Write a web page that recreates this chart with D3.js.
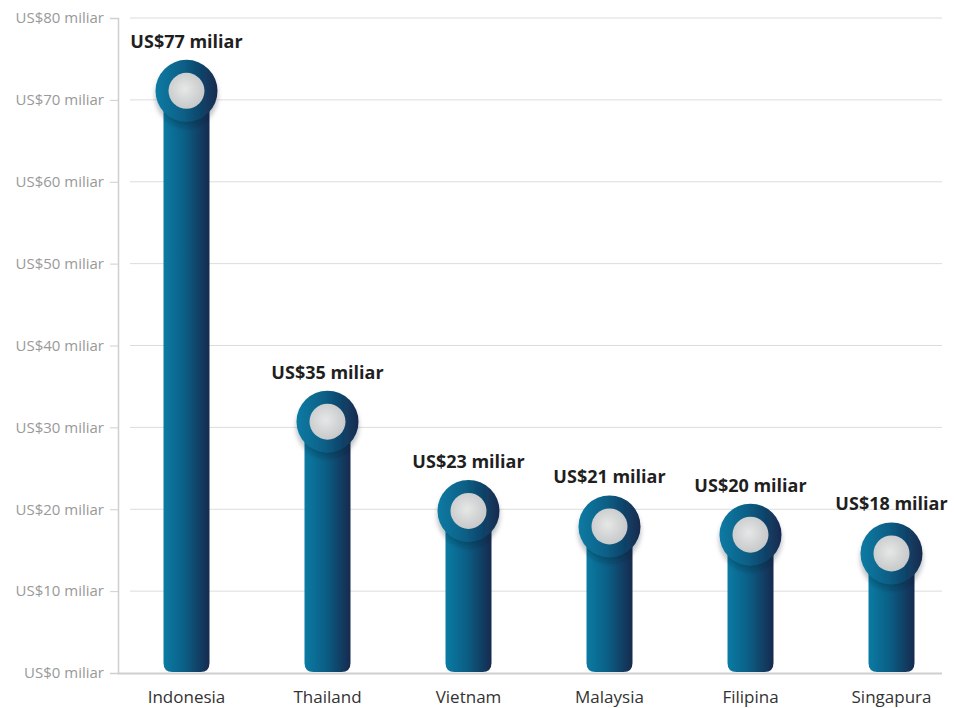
<!DOCTYPE html>
<html>
<head>
<meta charset="utf-8">
<script src="https://cdn.jsdelivr.net/npm/d3@7"></script>
<style>
  body { margin: 0; background: #fff; }
  svg { display: block; font-family: "Open Sans", "Noto Sans", sans-serif; }
</style>
</head>
<body>
<div id="chart"></div>
<script>
// categories and values
const countries = ["Indonesia", "Thailand", "Vietnam", "Malaysia", "Filipina", "Singapura"];
// value labels printed above each bar
const valueLabels = ["US$77 miliar", "US$35 miliar", "US$23 miliar", "US$21 miliar", "US$20 miliar", "US$18 miliar"];
// height of each bar as drawn (center of the round cap), in US$ miliar
const barValues = [71.1, 30.7, 19.8, 17.9, 16.9, 14.6];
const yTicks = [0, 10, 20, 30, 40, 50, 60, 70, 80];

const width = 954, height = 708;

const svg = d3.select("#chart")
  .append("svg")
  .attr("width", width)
  .attr("height", height);

const defs = svg.append("defs");

//Horizontal gradient for bars and caps
const grad = defs.append("linearGradient")
  .attr("id", "barGrad")
  .attr("x1", "0%").attr("x2", "100%")
  .attr("y1", "0%").attr("y2", "0%");
grad.append("stop").attr("offset", "0%").attr("stop-color", "#0a7ba3");
grad.append("stop").attr("offset", "45%").attr("stop-color", "#0b5f86");
grad.append("stop").attr("offset", "100%").attr("stop-color", "#162a4e");

//Light grey inner disc
const disc = defs.append("radialGradient")
  .attr("id", "discGrad")
  .attr("cx", "45%").attr("cy", "45%").attr("r", "60%");
disc.append("stop").attr("offset", "0%").attr("stop-color", "#e6e7e7");
disc.append("stop").attr("offset", "100%").attr("stop-color", "#c4c6c7");

const shadow = defs.append("filter")
  .attr("id", "capShadow")
  .attr("x", "-30%").attr("y", "-30%")
  .attr("width", "160%").attr("height", "170%");
shadow.append("feDropShadow")
  .attr("dx", 0).attr("dy", 5)
  .attr("stdDeviation", 2.5)
  .attr("flood-color", "#0b1c33")
  .attr("flood-opacity", 0.3);

//Scales
const y = d3.scaleLinear().domain([0, 80]).range([673, 18]);
const x = d3.scaleBand().domain(countries).range([116, 962]).padding(0);

//Gridlines
svg.append("g")
  .selectAll("line")
  .data(yTicks.filter(d => d > 0))
  .enter()
  .append("line")
  .attr("x1", 130)
  .attr("x2", 942)
  .attr("y1", d => y(d))
  .attr("y2", d => y(d))
  .style("stroke", "#dcdcdc")
  .style("stroke-width", 1);

//Y axis
const yAxis = svg.append("g")
  .attr("transform", "translate(118,0)")
  .call(d3.axisLeft(y)
    .tickValues(yTicks)
    .tickSize(8)
    .tickPadding(6)
    .tickFormat(d => "US$" + d + " miliar"));
yAxis.select(".domain").style("stroke", "#cfcfcf").style("stroke-width", 1.5);
yAxis.selectAll(".tick line").style("stroke", "#cfcfcf");
yAxis.selectAll(".tick text")
  .style("font-size", "15px")
  .style("fill", "#999")
  .style("font-family", "'Open Sans', sans-serif");

//Baseline
svg.append("line")
  .attr("x1", 118).attr("x2", 942)
  .attr("y1", y(0) + 0.5).attr("y2", y(0) + 0.5)
  .style("stroke", "#cfcfcf")
  .style("stroke-width", 2);

//X axis labels
const xAxis = svg.append("g")
  .attr("transform", "translate(0," + y(0) + ")")
  .call(d3.axisBottom(x).tickSize(0).tickPadding(18));
xAxis.select(".domain").remove();
xAxis.selectAll(".tick text")
  .style("font-size", "17px")
  .style("fill", "#333")
  .style("font-family", "'Open Sans', sans-serif");

const barW = 46, capR = 31, discR = 18, rr = 9;

const g = svg.selectAll(".bar")
  .data(countries.map((c, i) => ({ name: c, value: barValues[i], label: valueLabels[i] })))
  .enter()
  .append("g")
  .attr("class", "bar");

//Bar body, rounded at the bottom
g.append("path")
  .attr("d", function (d) {
    const cx = x(d.name) + x.bandwidth() / 2;
    const x0 = cx - barW / 2, x1 = cx + barW / 2;
    const top = y(d.value), bot = y(0) - 1;
    return "M" + x0 + "," + top +
      "L" + x1 + "," + top +
      "L" + x1 + "," + (bot - rr) +
      "Q" + x1 + "," + bot + " " + (x1 - rr) + "," + bot +
      "L" + (x0 + rr) + "," + bot +
      "Q" + x0 + "," + bot + " " + x0 + "," + (bot - rr) + "Z";
  })
  .style("fill", "url(#barGrad)");

//Round cap
g.append("circle")
  .attr("cx", d => x(d.name) + x.bandwidth() / 2)
  .attr("cy", d => y(d.value))
  .attr("r", capR)
  .style("fill", "url(#barGrad)")
  .attr("filter", "url(#capShadow)");

g.append("circle")
  .attr("cx", d => x(d.name) + x.bandwidth() / 2)
  .attr("cy", d => y(d.value))
  .attr("r", discR)
  .style("fill", "url(#discGrad)");

//Value labels
g.append("text")
  .attr("x", d => x(d.name) + x.bandwidth() / 2)
  .attr("y", d => y(d.value) - capR - 12)
  .attr("text-anchor", "middle")
  .style("font-size", "18px")
  .style("font-weight", "bold")
  .style("fill", "#1f1f1f")
  .text(d => d.label);
</script>
</body>
</html>
